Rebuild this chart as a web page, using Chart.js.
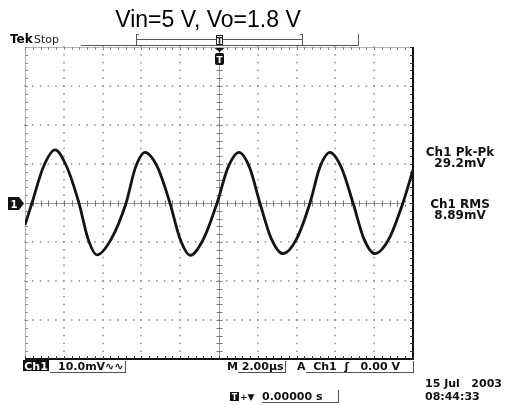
<!DOCTYPE html>
<html>
<head>
<meta charset="utf-8">
<script src="https://cdn.jsdelivr.net/npm/chart.js@4.4.1/dist/chart.umd.min.js"></script>
<style>
html,body{margin:0;padding:0;background:#fff;}
#wrap{width:505px;height:405px;}
</style>
</head>
<body>
<div id="wrap"><canvas id="c" width="505" height="405"></canvas></div>
<script>
// ---- data (time in µs, voltage in mV) ----
const timeUs = [-10.0,-9.64,-9.05,-8.45,-7.85,-7.22,-6.75,-6.29,-5.55,-4.79,-4.30,-3.81,-3.17,-2.53,-2.00,-1.49,-0.80,-0.10,0.47,1.03,1.57,2.11,2.70,3.30,4.00,4.69,5.20,5.72,6.30,6.91,7.47,8.04,8.76,9.48,10.0];
const ch1mV  = [-5.6,0,9.3,13.6,9.3,0,-9.2,-13.3,-9.2,0,9.2,13.0,9.2,0,-9.3,-13.4,-9.2,0,9.2,13.0,9.2,0,-9.2,-13.0,-9.2,0,9.2,13.0,9.2,0,-9.2,-13.0,-9.2,0,8.5];
const xRange = [-10, 10];     // 10 div x 2.00 µs
const yRange = [-40, 40];     // 8 div x 10.0 mV
const titleText = "Vin=5 V, Vo=1.8 V";
const measLabels = ["Ch1 Pk-Pk", "29.2mV", "Ch1 RMS", "8.89mV"];
const statusTexts = {ch:"Ch1", scale:"10.0mV\u223F\u223F", time:"M 2.00\u00B5s", trig:"A  Ch1  \u0283   0.00 V", pos:"0.00000 s", date:"15 Jul   2003", clock:"08:44:33"};

const points = timeUs.map((t,i)=>({x:t,y:ch1mV[i]}));

const scope = {
  id:'scope',
  beforeDatasetsDraw(chart){
    const {ctx, chartArea:a, scales:{x,y}} = chart;
    ctx.save();
    // dotted graticule
    ctx.fillStyle = '#8a8a8a';
    for(let gx=-8; gx<=8; gx+=2){
      if(gx===0) continue;
      const px = Math.round(x.getPixelForValue(gx));
      for(let j=0;j<=40;j++){
        const py = y.getPixelForValue(-40 + j*2);
        ctx.fillRect(px-0.75, py-0.75, 1.5, 1.5);
      }
    }
    for(let gy=-30; gy<=30; gy+=10){
      if(gy===0) continue;
      const py = Math.round(y.getPixelForValue(gy));
      for(let j=0;j<=50;j++){
        const px = x.getPixelForValue(-10 + j*0.4);
        ctx.fillRect(px-0.75, py-0.75, 1.5, 1.5);
      }
    }
    // centre cross
    const cx = Math.round(x.getPixelForValue(0))+0.5, cy = Math.round(y.getPixelForValue(0))+0.5;
    ctx.strokeStyle = '#9a9a9a'; ctx.lineWidth = 1;
    ctx.beginPath(); ctx.moveTo(a.left,cy); ctx.lineTo(a.right,cy); ctx.moveTo(cx,a.top); ctx.lineTo(cx,a.bottom); ctx.stroke();
    ctx.strokeStyle = '#777';
    ctx.beginPath();
    for(let j=0;j<=50;j++){ const px = Math.round(x.getPixelForValue(-10+j*0.4))+0.5; ctx.moveTo(px,cy-3); ctx.lineTo(px,cy+3); }
    for(let j=0;j<=40;j++){ const py = Math.round(y.getPixelForValue(-40+j*2))+0.5; ctx.moveTo(cx-3,py); ctx.lineTo(cx+3,py); }
    ctx.stroke();
    // top / left edges (light)
    ctx.strokeStyle = '#b5b5b5';
    ctx.beginPath();
    ctx.moveTo(a.left, a.top+0.5); ctx.lineTo(a.right, a.top+0.5);
    ctx.moveTo(a.left+0.5, a.top); ctx.lineTo(a.left+0.5, a.bottom);
    ctx.stroke();
    ctx.strokeStyle = '#8a8a8a';
    ctx.beginPath();
    for(let j=0;j<=50;j++){ const px = Math.round(x.getPixelForValue(-10+j*0.4))+0.5; ctx.moveTo(px,a.top); ctx.lineTo(px,a.top+3); }
    for(let j=0;j<=40;j++){ const py = Math.round(y.getPixelForValue(-40+j*2))+0.5; ctx.moveTo(a.left,py); ctx.lineTo(a.left+3,py); }
    ctx.stroke();
    // bottom / right edges (dark)
    ctx.strokeStyle = '#111'; ctx.lineWidth = 2;
    ctx.beginPath();
    ctx.moveTo(a.left, a.bottom); ctx.lineTo(a.right+1, a.bottom);
    ctx.moveTo(a.right, a.top); ctx.lineTo(a.right, a.bottom);
    ctx.stroke();
    ctx.lineWidth = 1; ctx.strokeStyle = '#333';
    ctx.beginPath();
    for(let j=0;j<=50;j++){ const px = Math.round(x.getPixelForValue(-10+j*0.4))+0.5; ctx.moveTo(px,a.bottom); ctx.lineTo(px,a.bottom-3); }
    for(let j=0;j<=40;j++){ const py = Math.round(y.getPixelForValue(-40+j*2))+0.5; ctx.moveTo(a.right,py); ctx.lineTo(a.right-3,py); }
    ctx.stroke();
    ctx.restore();
  },
  afterDraw(chart){
    const {ctx, chartArea:a, scales:{x,y}} = chart;
    const cx = x.getPixelForValue(0), cy = y.getPixelForValue(0);
    ctx.save();
    const T = (s,px,py,font,align,color)=>{ ctx.font=font; ctx.textAlign=align||'left'; ctx.textBaseline='alphabetic'; ctx.fillStyle=color||'#111'; ctx.fillText(s,px,py); };
    // title
    T(titleText, 208, 27, '23px "Liberation Sans", Arial, sans-serif', 'center', '#000');
    // Tek Stop
    T('Tek', 10, 43, 'bold 12px "DejaVu Sans", sans-serif', 'left', '#000');
    T('Stop', 34, 43, '11px "DejaVu Sans", sans-serif', 'left', '#222');
    // record bar
    ctx.strokeStyle = '#555'; ctx.lineWidth = 1;
    ctx.beginPath();
    ctx.moveTo(81,45.5); ctx.lineTo(358,45.5);
    ctx.moveTo(358.5,34); ctx.lineTo(358.5,46);
    ctx.moveTo(136,39.5); ctx.lineTo(302,39.5);
    ctx.moveTo(136.5,34); ctx.lineTo(136.5,46); ctx.moveTo(136,34.5); ctx.lineTo(139,34.5); ctx.moveTo(136,45.5); ctx.lineTo(139,45.5);
    ctx.moveTo(302.5,34); ctx.lineTo(302.5,46); ctx.moveTo(300,34.5); ctx.lineTo(303,34.5); ctx.moveTo(300,45.5); ctx.lineTo(303,45.5);
    ctx.stroke();
    // trigger position icon on bar
    ctx.fillStyle='#fff'; ctx.strokeStyle='#222';
    ctx.fillRect(cx-3,35,7,10); ctx.strokeRect(cx-2.5,35.5,6,9);
    T('T', cx+0.5, 44, 'bold 8px "DejaVu Sans", sans-serif', 'center', '#222');
    // marker below top edge
    ctx.fillStyle='#111';
    ctx.beginPath(); ctx.moveTo(cx-4.5,a.top+1); ctx.lineTo(cx+5.5,a.top+1); ctx.lineTo(cx+0.5,a.top+5); ctx.closePath(); ctx.fill();
    ctx.beginPath(); ctx.roundRect(cx-4,a.top+6,9,12,2); ctx.fill();
    T('T', cx+0.5, a.top+16, 'bold 9px "DejaVu Sans", sans-serif', 'center', '#fff');
    // ground marker "1"
    ctx.fillStyle='#111';
    ctx.beginPath(); ctx.moveTo(8,cy-6); ctx.lineTo(19,cy-6); ctx.lineTo(24,cy+0.5); ctx.lineTo(19,cy+7); ctx.lineTo(8,cy+7); ctx.closePath(); ctx.fill();
    T('1', 14, cy+5, 'bold 10px "DejaVu Sans", sans-serif', 'center', '#fff');
    // trigger level arrow
    ctx.beginPath(); ctx.moveTo(a.right-9,cy+0.5); ctx.lineTo(a.right-4,cy-3.5); ctx.lineTo(a.right-4,cy+4.5); ctx.closePath(); ctx.fill();
    // measurements
    const mf = 'bold 12px "DejaVu Sans", sans-serif';
    T(measLabels[0], 460, 156, mf, 'center'); T(measLabels[1], 460, 167, mf, 'center');
    T(measLabels[2], 460, 208, mf, 'center'); T(measLabels[3], 460, 219, mf, 'center');
    // status line
    const sf = 'bold 11px "DejaVu Sans", sans-serif';
    ctx.fillStyle='#111'; ctx.fillRect(23,360,26,11);
    T(statusTexts.ch, 36, 369.5, sf, 'center', '#fff');
    T(statusTexts.scale, 58, 369.5, sf, 'left');
    T(statusTexts.time, 227, 369.5, sf, 'left');
    T(statusTexts.trig, 297, 369.5, sf, 'left');
    ctx.strokeStyle='#555'; ctx.lineWidth=1;
    ctx.beginPath();
    ctx.moveTo(50,372.5); ctx.lineTo(126,372.5); ctx.moveTo(125.5,361); ctx.lineTo(125.5,373);
    ctx.moveTo(238,372.5); ctx.lineTo(286,372.5); ctx.moveTo(285.5,361); ctx.lineTo(285.5,373);
    ctx.moveTo(306,372.5); ctx.lineTo(414,372.5); ctx.moveTo(413.5,361); ctx.lineTo(413.5,373);
    ctx.moveTo(262,402.5); ctx.lineTo(338,402.5); ctx.moveTo(338.5,390); ctx.lineTo(338.5,403);
    ctx.stroke();
    // horizontal position readout
    ctx.fillStyle='#111'; ctx.fillRect(230,392,9,9);
    T('T', 234.5, 400, 'bold 8px "DejaVu Sans", sans-serif', 'center', '#fff');
    T('+\u25BC', 240, 400, 'bold 9px "DejaVu Sans", sans-serif', 'left');
    T(statusTexts.pos, 262, 400, sf, 'left');
    T(statusTexts.date, 425, 387, sf, 'left');
    T(statusTexts.clock, 425, 400, sf, 'left');
    ctx.restore();
  }
};

new Chart(document.getElementById('c'), {
  type:'line',
  data:{ datasets:[{ label:'Ch1', data:points, borderColor:'#141414', borderWidth:2.8, pointRadius:0, cubicInterpolationMode:'monotone', fill:false }]},
  options:{
    responsive:false, animation:false, devicePixelRatio:1,
    layout:{ padding:{ left:25, top:47, right:92, bottom:46 } },
    plugins:{ legend:{display:false}, title:{display:false}, tooltip:{enabled:false} },
    scales:{
      x:{ type:'linear', min:xRange[0], max:xRange[1], display:false },
      y:{ type:'linear', min:yRange[0], max:yRange[1], display:false }
    }
  },
  plugins:[scope]
});
</script>
</body>
</html>
